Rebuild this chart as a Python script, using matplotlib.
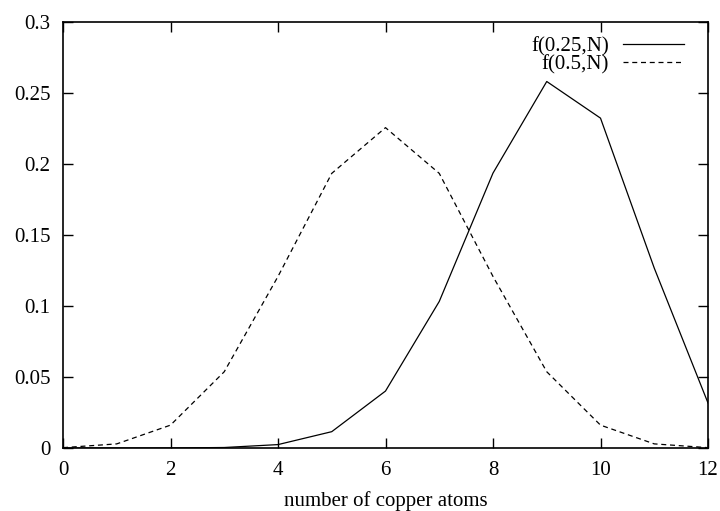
import matplotlib
matplotlib.use('Agg')
import matplotlib.pyplot as plt

# liczba atomow miedzi
n_atoms = [0, 1, 2, 3, 4, 5, 6, 7, 8, 9, 10, 11, 12]

# f(0.25,N)
f_025 = [0.0, 0.0, 0.00004, 0.00035, 0.0024, 0.0115, 0.0401, 0.1032,
         0.1936, 0.2581, 0.2323, 0.1267, 0.0317]

# f(0.5,N)
f_05 = [0.00024, 0.0029, 0.0161, 0.0537, 0.1208, 0.1934, 0.2256, 0.1934,
        0.1208, 0.0537, 0.0161, 0.0029, 0.00024]

plt.rcParams['font.family'] = ['Liberation Serif', 'DejaVu Serif']
plt.rcParams['font.size'] = 15

fig = plt.figure(figsize=(7.2, 5.11), dpi=100)
ax = fig.add_axes([63 / 720, 63 / 511, 645 / 720, 426 / 511])

ax.plot(n_atoms, f_025, color='black', linewidth=0.9, label='f(0.25,N)')
ax.plot(n_atoms, f_05, color='black', linewidth=0.9, linestyle=(0, (4, 3)), label='f(0.5,N)')

ax.set_xlim(0, 12)
ax.set_ylim(0, 0.3)
ax.set_xticks(range(0, 13, 2))
ax.set_yticks([0, 0.05, 0.1, 0.15, 0.2, 0.25, 0.3])
ax.set_yticklabels(['0', '0.05', '0.1', '0.15', '0.2', '0.25', '0.3'])
ax.tick_params(direction='in', length=7, width=1, top=True, right=True, pad=9)
for s in ax.spines.values():
    s.set_linewidth(1.2)

ax.set_xlabel('number of copper atoms', labelpad=8)

ax.legend(loc='upper right', frameon=False, markerfirst=False, handlelength=2.9,
          handletextpad=0.7, labelspacing=-0.05, borderaxespad=0.3, bbox_to_anchor=(0.985, 1.0))

fig.savefig('out.png', dpi=100)
